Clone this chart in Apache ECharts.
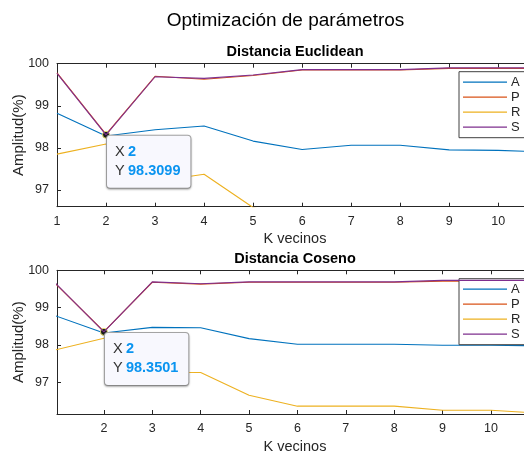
<!DOCTYPE html>
<html>
<head>
<meta charset="utf-8">
<script src="https://cdn.jsdelivr.net/npm/echarts@6/dist/echarts.min.js"></script>
<style>html,body{margin:0;padding:0;background:#fff;}#c{width:524px;height:455px;}</style>
</head>
<body>
<div id="c"></div>
<script>
// ---- data ----
const kVecinos = [1, 2, 3, 4, 5, 6, 7, 8, 9, 10, 11];
const seriesNames = ['A', 'P', 'R', 'S'];
// Distancia Euclidean
const A_euc = [98.82, 98.28, 98.43, 98.52, 98.16, 97.96, 98.06, 98.06, 97.95, 97.94, 97.90];
const P_euc = [99.78, 98.32, 99.70, 99.63, 99.72, 99.85, 99.85, 99.85, 99.89, 99.89, 99.89];
const R_euc = [97.85, 98.09, 97.20, 97.37, 96.58, 96.30, 96.30, 96.30, 96.20, 96.20, 96.15];
const S_euc = [99.77, 98.3099, 99.69, 99.65, 99.73, 99.86, 99.86, 99.86, 99.90, 99.90, 99.90];
// Distancia Coseno
const A_cos = [98.78, 98.32, 98.47, 98.46, 98.17, 98.02, 98.02, 98.02, 97.99, 97.99, 97.98];
const P_cos = [99.64, 98.36, 99.68, 99.63, 99.68, 99.68, 99.68, 99.68, 99.71, 99.71, 99.71];
const R_cos = [97.87, 98.18, 97.27, 97.26, 96.65, 96.36, 96.36, 96.36, 96.25, 96.25, 96.17];
const S_cos = [99.65, 98.3501, 99.69, 99.64, 99.69, 99.69, 99.69, 99.69, 99.73, 99.73, 99.73];
// ticks
const xTicksTop = [1, 2, 3, 4, 5, 6, 7, 8, 9, 10];
const xTicksBottom = [2, 3, 4, 5, 6, 7, 8, 9, 10];
const yTicks = [97, 98, 99, 100];
const tipIndex = 1; // data tip on S at K = 2

// ---- styles ----
const colors = ['#0072BD', '#D95319', '#EDB120', '#7E2F8E'];
const FONT = '"Liberation Sans", Arial, Helvetica, sans-serif';
const AX = '#262626';

function pairs(vals) { return kVecinos.map((k, i) => [k, vals[i]]); }

function xAxes(gridIndex, min, max, ticks) {
  return [{
    type: 'value', gridIndex, min, max, position: 'bottom',
    name: 'K vecinos', nameLocation: 'middle', nameGap: 25,
    nameTextStyle: { color: AX, fontSize: 14.5, fontFamily: FONT },
    axisLine: { show: true, onZero: false, lineStyle: { color: AX, width: 1 } },
    axisTick: { show: true, inside: true, length: 4, customValues: ticks, lineStyle: { color: AX } },
    axisLabel: { show: true, customValues: ticks, color: AX, fontSize: 12.5, fontFamily: FONT, margin: 8 },
    splitLine: { show: false }
  }, {
    type: 'value', gridIndex, min, max, position: 'top',
    axisLine: { show: true, onZero: false, lineStyle: { color: AX, width: 1 } },
    axisTick: { show: true, inside: true, length: 4, customValues: ticks, lineStyle: { color: AX } },
    axisLabel: { show: false },
    splitLine: { show: false }
  }];
}
function yAxis(gridIndex, min, max) {
  return {
    type: 'value', gridIndex, min, max,
    name: 'Amplitud(%)', nameLocation: 'middle', nameGap: 31, nameRotate: 90,
    nameMoveOverlap: false,
    nameTextStyle: { color: AX, fontSize: 15, fontFamily: FONT },
    axisLine: { show: true, onZero: false, lineStyle: { color: AX, width: 1 } },
    axisTick: { show: true, inside: true, length: 4, customValues: yTicks, lineStyle: { color: AX } },
    axisLabel: { show: true, customValues: yTicks, color: AX, fontSize: 12.5, fontFamily: FONT, margin: 8 },
    splitLine: { show: false }
  };
}
function tipLabel(xv, yv) {
  return {
    show: true,
    position: [5, 5],
    formatter: '{k|X} {v|' + xv + '}\n{k|Y} {v|' + yv.toFixed(4) + '}',
    backgroundColor: '#f8f8fe',
    borderColor: '#a6a6a6', borderWidth: 1, borderRadius: 3,
    shadowColor: 'rgba(0,0,0,0.25)', shadowBlur: 2, shadowOffsetY: 1,
    padding: [7, 10, 7, 8],
    align: 'left', verticalAlign: 'top',
    rich: {
      k: { color: '#333333', fontSize: 14.5, fontFamily: FONT, lineHeight: 19 },
      v: { color: '#0a94f0', fontSize: 14.5, fontWeight: 'bold', fontFamily: FONT, lineHeight: 19 }
    }
  };
}
function makeSeries(xIdx, yIdx, data4) {
  return data4.map((vals, i) => {
    const s = {
      name: seriesNames[i], type: 'line', xAxisIndex: xIdx, yAxisIndex: yIdx,
      data: pairs(vals), symbol: 'none', showSymbol: false, clip: true,
      lineStyle: { color: colors[i], width: 1.1 }, itemStyle: { color: colors[i] },
      z: 2 + i, silent: true
    };
    if (i === 3) {
      s.markPoint = {
        silent: true,
        symbol: 'circle', symbolSize: 7,
        itemStyle: { color: '#1a1a1a', borderColor: '#e8e070', borderWidth: 1 },
        label: tipLabel(kVecinos[tipIndex], vals[tipIndex]),
        data: [{ coord: [kVecinos[tipIndex], vals[tipIndex]] }]
      };
    }
    return s;
  });
}
function legend(top) {
  return {
    data: seriesNames, orient: 'vertical', left: 459, top: top,
    icon: 'path://M0,0 L44,0 L44,1.2 L0,1.2 Z', symbolKeepAspect: true,
    padding: [4, 40, 4, 4], itemGap: 2, itemWidth: 44, itemHeight: 14,
    backgroundColor: '#fff', borderColor: '#404040', borderWidth: 1,
    itemStyle: { borderWidth: 0 },
    textStyle: { color: AX, fontSize: 13, fontFamily: FONT, padding: [0, 0, 0, -1] },
    selectedMode: false
  };
}

const chart = echarts.init(document.getElementById('c'), null, { renderer: 'canvas' });
chart.setOption({
  animation: false,
  backgroundColor: '#ffffff',
  title: [
    { text: 'Optimización de parámetros', left: 285.5, top: 11, textAlign: 'center', padding: 0,
      textStyle: { fontSize: 19, fontWeight: 'normal', color: '#000', fontFamily: FONT } },
    { text: 'Distancia Euclidean', left: 295, top: 44.5, textAlign: 'center', padding: 0,
      textStyle: { fontSize: 14.5, fontWeight: 'bold', color: '#000', fontFamily: FONT } },
    { text: 'Distancia Coseno', left: 295, top: 251, textAlign: 'center', padding: 0,
      textStyle: { fontSize: 14.5, fontWeight: 'bold', color: '#000', fontFamily: FONT } }
  ],
  legend: [legend(71.7), legend(278.7)],
  grid: [
    { left: 57, top: 63.7, width: 476, height: 143, outerBoundsMode: 'none', containLabel: false },
    { left: 57, top: 270.3, width: 476, height: 143.7, outerBoundsMode: 'none', containLabel: false }
  ],
  xAxis: [].concat(xAxes(0, 1, 10.71, xTicksTop), xAxes(1, 1.03, 10.87, xTicksBottom)),
  yAxis: [yAxis(0, 96.6, 100), yAxis(1, 96.15, 100)],
  series: [].concat(
    makeSeries(0, 0, [A_euc, P_euc, R_euc, S_euc]),
    makeSeries(2, 1, [A_cos, P_cos, R_cos, S_cos])
  )
});
</script>
</body>
</html>
